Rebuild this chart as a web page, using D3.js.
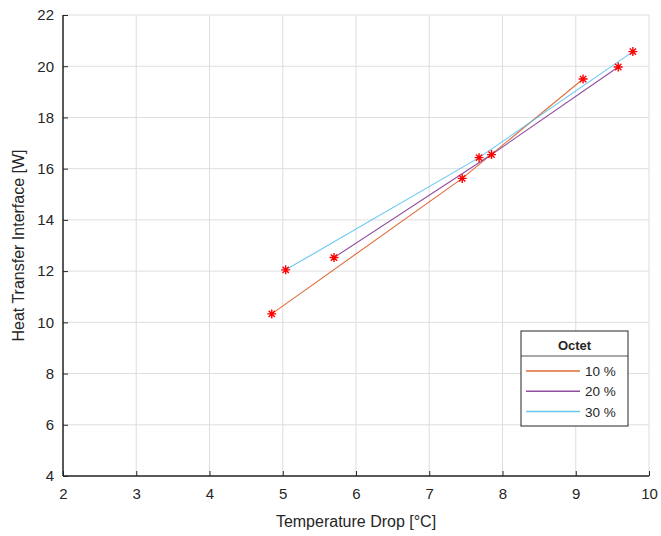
<!DOCTYPE html>
<html><head><meta charset="utf-8">
<script src="https://cdn.jsdelivr.net/npm/d3@7"></script>
<style>
body{margin:0;background:#fff;}
text{font-family:"Liberation Sans",Arial,sans-serif;fill:#262626;}
</style></head>
<body><svg id="c" width="661" height="536"></svg>
<script>
const seriesNames = ["10 %", "20 %", "30 %"];
const seriesColors = ["#D95319", "#7E2F8E", "#4DBEEE"];
const x10 = [4.85, 7.45, 9.10];
const y10 = [10.33, 15.62, 19.50];
const x20 = [5.70, 7.85, 9.58];
const y20 = [12.53, 16.55, 19.97];
const x30 = [5.04, 7.68, 9.78];
const y30 = [12.05, 16.43, 20.57];
const xTicks = [2, 3, 4, 5, 6, 7, 8, 9, 10];
const yTicks = [4, 6, 8, 10, 12, 14, 16, 18, 20, 22];
const legendTitle = "Octet";
const xLabel = "Temperature Drop [°C]";
const yLabel = "Heat Transfer Interface [W]";

const series = [
  {name: seriesNames[0], color: seriesColors[0], pts: x10.map((v,i)=>[v,y10[i]])},
  {name: seriesNames[1], color: seriesColors[1], pts: x20.map((v,i)=>[v,y20[i]])},
  {name: seriesNames[2], color: seriesColors[2], pts: x30.map((v,i)=>[v,y30[i]])}
];

const L=63, R=649, T=15, B=476;
const svg = d3.select("#c");
const x = d3.scaleLinear().domain([2,10]).range([L,R]);
const y = d3.scaleLinear().domain([4,22]).range([B,T]);

// grid
const g = svg.append("g");
g.selectAll(".vg").data(xTicks).join("line")
  .attr("x1",d=>x(d)).attr("x2",d=>x(d)).attr("y1",T).attr("y2",B)
  .attr("stroke","#dedede").attr("stroke-width",1);
g.selectAll(".hg").data(yTicks).join("line")
  .attr("x1",L).attr("x2",R).attr("y1",d=>y(d)).attr("y2",d=>y(d))
  .attr("stroke","#dedede").attr("stroke-width",1);

// axes
const xAxis = d3.axisBottom(x).tickValues(xTicks).tickSize(-5).tickPadding(12).tickFormat(d3.format("d"));
const yAxis = d3.axisLeft(y).tickValues(yTicks).tickSize(-5).tickPadding(9).tickFormat(d3.format("d"));
const gx = svg.append("g").attr("transform",`translate(0,${B})`).call(xAxis);
const gy = svg.append("g").attr("transform",`translate(${L},0)`).call(yAxis);
[gx,gy].forEach(a=>{
  a.select(".domain").attr("stroke","#262626").attr("stroke-width",1.5);
  a.selectAll(".tick line").attr("stroke","#262626");
  a.selectAll(".tick text").style("font-size","15px").attr("fill","#262626")
   .style("font-family","'Liberation Sans',Arial,sans-serif");
});
gx.select(".domain").attr("d",`M${L},0H${R}`);
gy.select(".domain").attr("d",`M0,${T}V${B}`);

// lines
const line = d3.line().x(d=>x(d[0])).y(d=>y(d[1]));
svg.append("g").selectAll("path").data(series).join("path")
  .attr("d",d=>line(d.pts)).attr("fill","none")
  .attr("stroke",d=>d.color).attr("stroke-width",1.1).attr("opacity",0.85);

// markers (asterisks)
const star = (s)=>{
  const a=s, b=s*0.7;
  return `M${-a},0L${a},0M0,${-a}L0,${a}M${-b},${-b}L${b},${b}M${-b},${b}L${b},${-b}`;
};
series.forEach(sr=>{
  svg.append("g").selectAll("path").data(sr.pts).join("path")
    .attr("transform",d=>`translate(${x(d[0])},${y(d[1])})`)
    .attr("d",star(4.5)).attr("stroke","#ff0000").attr("stroke-width",1.4).attr("fill","none");
});

// axis labels
svg.append("text").attr("x",(L+R)/2).attr("y",527).attr("text-anchor","middle")
  .style("font-size","16px").text(xLabel);
svg.append("text").attr("transform",`translate(24,${(T+B)/2}) rotate(-90)`).attr("text-anchor","middle")
  .style("font-size","16px").text(yLabel);

// legend
const lg = svg.append("g");
const lx0=521, lx1=628, ly0=331, ly1=426;
lg.append("rect").attr("x",lx0).attr("y",ly0).attr("width",lx1-lx0).attr("height",ly1-ly0)
  .attr("fill","#fff").attr("stroke","#262626").attr("stroke-width",1);
lg.append("line").attr("x1",lx0).attr("x2",lx1).attr("y1",356).attr("y2",356).attr("stroke","#262626").attr("stroke-width",0.8);
lg.append("text").attr("x",(lx0+lx1)/2).attr("y",350).attr("text-anchor","middle")
  .style("font-size","13px").style("font-weight","bold").text(legendTitle);
const ly = d3.scalePoint().domain(seriesNames).range([371,411.5]);
series.forEach(sr=>{
  lg.append("line").attr("x1",526).attr("x2",580).attr("y1",ly(sr.name)).attr("y2",ly(sr.name))
    .attr("stroke",sr.color).attr("stroke-width",1.6).attr("opacity",0.85);
  lg.append("text").attr("x",585).attr("y",ly(sr.name)+5).style("font-size","13.5px").text(sr.name);
});
</script></body></html>
